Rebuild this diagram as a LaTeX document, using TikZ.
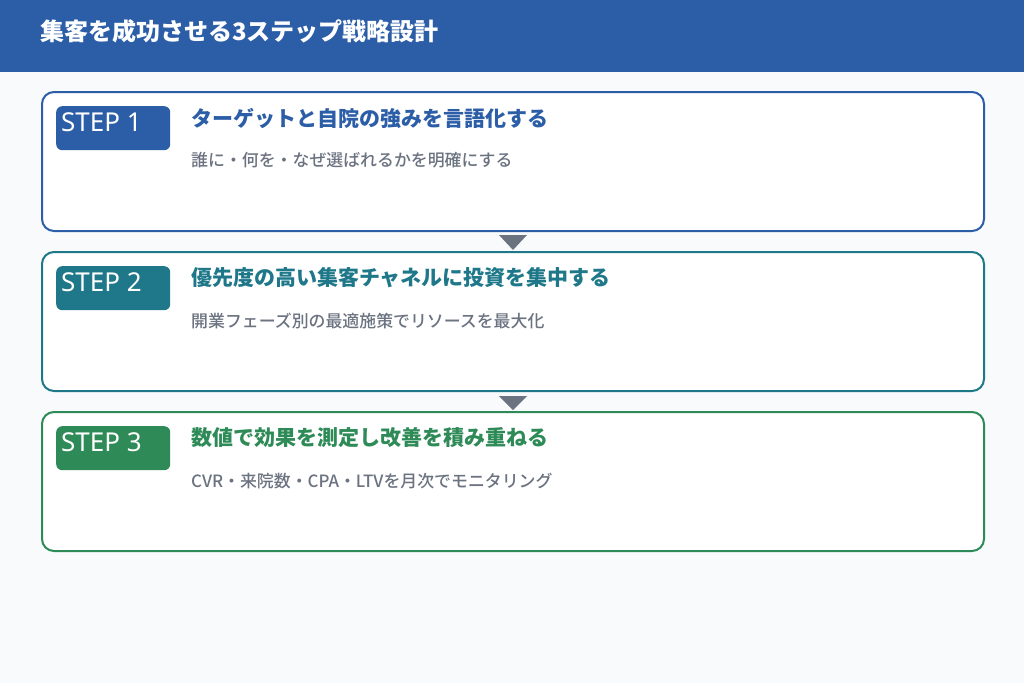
\documentclass[tikz,border=0pt]{standalone}
\usepackage{fontspec}
\setmainfont{Noto Sans CJK JP}
\newfontfamily\jpmed{Noto Sans CJK JP}[UprightFont={* Medium}]
\newfontfamily\latsans{Noto Sans}
\usetikzlibrary{calc}
\definecolor{bg}{HTML}{F8FAFC}
\definecolor{hdr}{HTML}{2C5EA8}
\definecolor{cone}{HTML}{2C5EA8}
\definecolor{ctwo}{HTML}{1E7889}
\definecolor{cthree}{HTML}{2E8B57}
\definecolor{subg}{HTML}{6B7280}
\definecolor{arrg}{HTML}{6B7280}
\tikzset{
  stepcard/.style={draw=#1, line width=2pt, fill=white, rounded corners=12pt, minimum width=942pt, minimum height=139pt, anchor=north west, inner sep=0pt},
  badge/.style={fill=#1, rounded corners=6pt, minimum width=114pt, minimum height=44pt, anchor=north west, inner sep=0pt},
  badgetext/.style={text=white, anchor=west, inner sep=0pt, font=\latsans\fontsize{26}{30}\selectfont},
  steptitle/.style={text=#1, anchor=west, inner sep=0pt, font=\bfseries\fontsize{21}{25}\selectfont},
  stepsub/.style={text=subg, anchor=west, inner sep=0pt, font=\jpmed\fontsize{16.9}{20}\selectfont},
  flowarrow/.style={fill=arrg},
}
\begin{document}
\begin{tikzpicture}[x=1pt,y=-1pt]
\useasboundingbox (0,0) rectangle (1024,683);
\fill[bg] (0,0) rectangle (1024,683);
\fill[hdr] (0,0) rectangle (1024,72);
\node[text=white, anchor=west, inner sep=0pt, font=\bfseries\fontsize{24}{28}\selectfont] (head) at (40,31) {集客を成功させる3ステップ戦略設計};

% step 1
\node[stepcard=cone] (b1) at (41,91) {};
\node[badge=cone] (g1) at (56,106) {};
\node[badgetext] (g1t) at (61,122) {STEP 1};
\node[steptitle=cone] (t1) at (191,118) {ターゲットと自院の強みを言語化する};
\node[stepsub] (s1) at (191,160) {誰に・何を・なぜ選ばれるかを明確にする};

% step 2
\node[stepcard=ctwo] (b2) at (41,251) {};
\node[badge=ctwo] (g2) at (56,266) {};
\node[badgetext] (g2t) at (61,282) {STEP 2};
\node[steptitle=ctwo] (t2) at (191,278) {優先度の高い集客チャネルに投資を集中する};
\node[stepsub] (s2) at (191,321) {開業フェーズ別の最適施策でリソースを最大化};

% step 3
\node[stepcard=cthree] (b3) at (41,411) {};
\node[badge=cthree] (g3) at (56,426) {};
\node[badgetext] (g3t) at (61,442) {STEP 3};
\node[steptitle=cthree] (t3) at (191,438) {数値で効果を測定し改善を積み重ねる};
\node[stepsub] (s3) at (191,481) {CVR・来院数・CPA・LTVを月次でモニタリング};

% arrows
\fill[flowarrow] ($(b1.south)+(-14,3)$) -- ($(b1.south)+(14,3)$) -- ($(b2.north)+(0,-1)$) -- cycle;
\fill[flowarrow] ($(b2.south)+(-14,4)$) -- ($(b2.south)+(14,4)$) -- ($(b3.north)+(0,-1)$) -- cycle;
\end{tikzpicture}
\end{document}
